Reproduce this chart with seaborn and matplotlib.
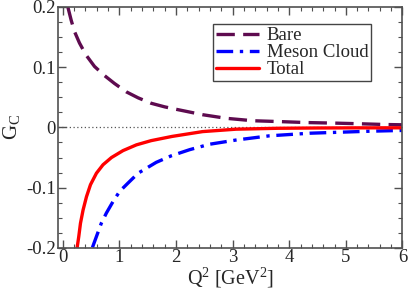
import matplotlib
matplotlib.use("Agg")
import matplotlib.pyplot as plt
import seaborn as sns
from matplotlib.ticker import MultipleLocator

# Data
bare_q2 = [0.088, 0.147, 0.206, 0.294, 0.41, 0.56, 0.735, 0.91, 1.12, 1.33, 1.56, 1.80,
           1.95, 2.47, 2.89, 3.36, 3.83, 4.30, 4.83, 5.24, 5.71, 6.0]
bare_gc = [0.200, 0.178, 0.159, 0.140, 0.120, 0.101, 0.086, 0.073, 0.059, 0.049, 0.040,
           0.034, 0.031, 0.021, 0.015, 0.011, 0.0096, 0.008, 0.007, 0.006, 0.0047, 0.0043]

meson_q2 = [0.524, 0.594, 0.68, 0.77, 0.887, 1.005, 1.15, 1.33, 1.65, 1.92, 2.24, 2.59,
            3.06, 3.65, 4.36, 5.41, 5.89, 6.0]
meson_gc = [-0.199, -0.181, -0.159, -0.142, -0.123, -0.106, -0.0925, -0.076, -0.058,
            -0.047, -0.037, -0.028, -0.021, -0.014, -0.0097, -0.0064, -0.0053, -0.0051]

total_q2 = [0.252, 0.282, 0.312, 0.358, 0.418, 0.489, 0.594, 0.71, 0.86, 1.064, 1.30,
            1.56, 1.93, 2.47, 3.06, 3.8, 4.5, 5.2, 6.0]
total_gc = [-0.200, -0.181, -0.159, -0.137, -0.115, -0.095, -0.076, -0.062, -0.050,
            -0.0385, -0.029, -0.022, -0.015, -0.007, -0.003, -0.0015, -0.001, -0.0008,
            -0.0007]

labels = ["Bare", "Meson Cloud", "Total"]
colors = ["#5e0b4f", "#0000ff", "#ff0000"]

sns.set_theme(style="ticks")
plt.rcParams["font.family"] = ["Liberation Serif", "DejaVu Serif"]
plt.rcParams["mathtext.fontset"] = "custom"
plt.rcParams["mathtext.rm"] = "Liberation Serif"
plt.rcParams["mathtext.it"] = "Liberation Serif:italic"

fig = plt.figure(figsize=(4.09, 2.94), dpi=100)
ax = fig.add_axes([0.1425, 0.1565, 0.8415, 0.8205])

ax.axhline(0, color="#555555", lw=0.9, ls=(0, (1, 2)), zorder=1)

sns.lineplot(x=bare_q2, y=bare_gc, ax=ax, color=colors[0], lw=2.4,
             label=labels[0], sort=False, estimator=None)
sns.lineplot(x=meson_q2, y=meson_gc, ax=ax, color=colors[1], lw=2.4,
             label=labels[1], sort=False, estimator=None)
sns.lineplot(x=total_q2, y=total_gc, ax=ax, color=colors[2], lw=2.4,
             label=labels[2], sort=False, estimator=None)
ax.lines[1].set_dashes([5.5, 2.5])
ax.lines[2].set_dashes([5, 2.0, 1.0, 2.0])
for ln in ax.lines[1:]:
    ln.set_solid_joinstyle("round")

ax.set_xlim(-0.08, 6)
ax.set_ylim(-0.2, 0.2)
ax.xaxis.set_minor_locator(MultipleLocator(0.2))
ax.yaxis.set_minor_locator(MultipleLocator(0.025))
ax.set_xticks([0, 1, 2, 3, 4, 5, 6])
ax.set_xticklabels(["0", "1", "2", "3", "4", "5", "6"])
ax.set_yticks([-0.2, -0.1, 0, 0.1, 0.2])
ax.set_yticklabels(["-0.2", "-0.1", "0", "0.1", "0.2"])

ax.tick_params(which="both", direction="in", top=True, right=True, color="#505050",
               labelsize=13.5)
ax.tick_params(axis="x", pad=0.5)
ax.tick_params(axis="y", pad=2)
ax.tick_params(which="major", length=6, width=1)
ax.tick_params(which="minor", length=3, width=0.8)
for s in ax.spines.values():
    s.set_color("#505050")
    s.set_linewidth(1.2)

ax.set_xlabel("Q$^2$ [GeV$^2$]", fontsize=14.5, labelpad=0)
ax.set_ylabel("G$_\\mathrm{C}$", fontsize=15)
ax.yaxis.set_label_coords(-0.105, 0.5)

leg = ax.legend(loc="upper left", bbox_to_anchor=(0.45, 0.928), borderaxespad=0,
                fontsize=13.5, frameon=True, fancybox=False, edgecolor="#444444",
                framealpha=1, handlelength=2.3, labelspacing=0.0, borderpad=0.15,
                handletextpad=0.4)
leg.get_frame().set_linewidth(1.0)

fig.savefig("out.png", dpi=100)
